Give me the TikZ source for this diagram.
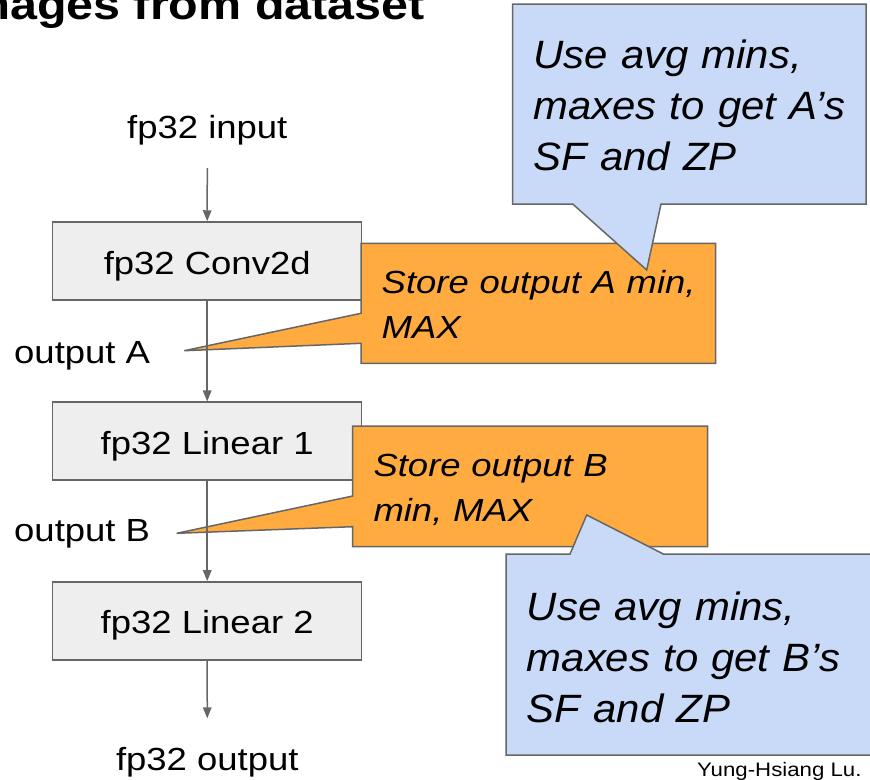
\documentclass[tikz,border=0pt]{standalone}
\usepackage{fontspec}
\setmainfont{Liberation Sans}[FakeStretch=1.14]
\newfontfamily\wideitalic{Liberation Sans}[FakeStretch=1.06]
\usetikzlibrary{arrows.meta}

\definecolor{edgegray}{HTML}{666666}
\definecolor{boxgray}{HTML}{EEEEEE}
\definecolor{noteorange}{HTML}{FFAB40}
\definecolor{noteblue}{HTML}{C9DAF8}

\tikzset{
  plain/.style={inner sep=0pt, font=\fontsize{32}{45}\selectfont},
  layerbox/.style={draw=edgegray, line width=1.5pt, fill=boxgray, inner sep=0pt,
    minimum width=309pt, minimum height=78pt, text height=26pt, text depth=0pt,
    font=\fontsize{32}{45}\selectfont},
  flow/.style={draw=edgegray, line width=1.5pt,
    -{Triangle[width=8.5pt,length=11pt]}},
  callout/.style={draw=edgegray, line width=1.5pt, line join=miter},
  smallnote/.style={inner sep=0pt, anchor=base west, align=left, text width=340pt,
    font=\itshape\fontsize{32}{45}\selectfont},
  bignote/.style={inner sep=0pt, anchor=base west, align=left, text width=345pt,
    font=\wideitalic\itshape\fontsize{39.5}{51}\selectfont}
}

\begin{document}
\begin{tikzpicture}[x=1pt, y=-1pt]
\useasboundingbox (0,0) rectangle (870,779);

% heading (runs off the left edge)
\node[inner sep=0pt, anchor=base east, font=\bfseries\fontsize{42.5}{48}\selectfont]
  (heading) at (425,19.5) {images from dataset};

% layer boxes and flow labels
\node[plain, anchor=base] (in) at (207.3,138) {fp32 input};
\node[layerbox] (conv) at (207.2,261) {fp32 Conv2d};
\node[layerbox] (lin1) at (207.2,441.2) {fp32 Linear 1};
\node[layerbox] (lin2) at (207.2,620.9) {fp32 Linear 2};
\node[plain, anchor=base] (out) at (207.3,770) {fp32 output};
\node[plain, anchor=base west] (outA) at (14,363.3) {output A};
\node[plain, anchor=base west] (outB) at (14,541.7) {output B};

% callout: store A
\coordinate (tipA) at (184.3,350.7);
\filldraw[callout, fill=noteorange] (361,243.3) -- (715.7,243.3) -- (715.7,363.3)
  -- (361,363.3) -- (361,343.3) -- (tipA) -- (361,313.3) -- cycle;
\node[smallnote] (storeA) at (381.5,293) {Store output A min,\\MAX};

% callout: store B
\coordinate (tipB) at (176.7,533.3);
\filldraw[callout, fill=noteorange] (352.7,426) -- (707.7,426) -- (707.7,546.7)
  -- (352.7,546.7) -- (352.7,526.7) -- (tipB) -- (352.7,496) -- cycle;
\node[smallnote] (storeB) at (373.3,476) {Store output B\\min, MAX};

% callout: scale factor and zero point for A
\coordinate (tipSA) at (646.7,270);
\filldraw[callout, fill=noteblue] (512.7,4) -- (866,4) -- (866,204)
  -- (661,204) -- (tipSA) -- (572.7,204) -- (512.7,204) -- cycle;
\node[bignote] (sfA) at (533.3,68.3) {Use avg mins,\\maxes to get A’s\\SF and ZP};

% callout: scale factor and zero point for B
\coordinate (tipSB) at (586.7,515);
\filldraw[callout, fill=noteblue] (506,554) -- (570,554) -- (tipSB) -- (663.3,554)
  -- (875,554) -- (875,755) -- (506,755) -- cycle;
\node[bignote] (sfB) at (526.7,620.5) {Use avg mins,\\maxes to get B’s\\SF and ZP};

% data flow
\draw[flow, shorten <=23.3pt] (in.south) -- (conv.north);
\draw[flow] (conv.south) -- (lin1.north);
\draw[flow] (lin1.south) -- (lin2.north);
\draw[flow, shorten >=28.3pt] (lin2.south) -- (out.north);

% credit
\node[inner sep=0pt, anchor=base east, font=\fontsize{19.5}{22}\selectfont]
  (credit) at (861.7,776) {Yung-Hsiang Lu.};
\end{tikzpicture}
\end{document}
